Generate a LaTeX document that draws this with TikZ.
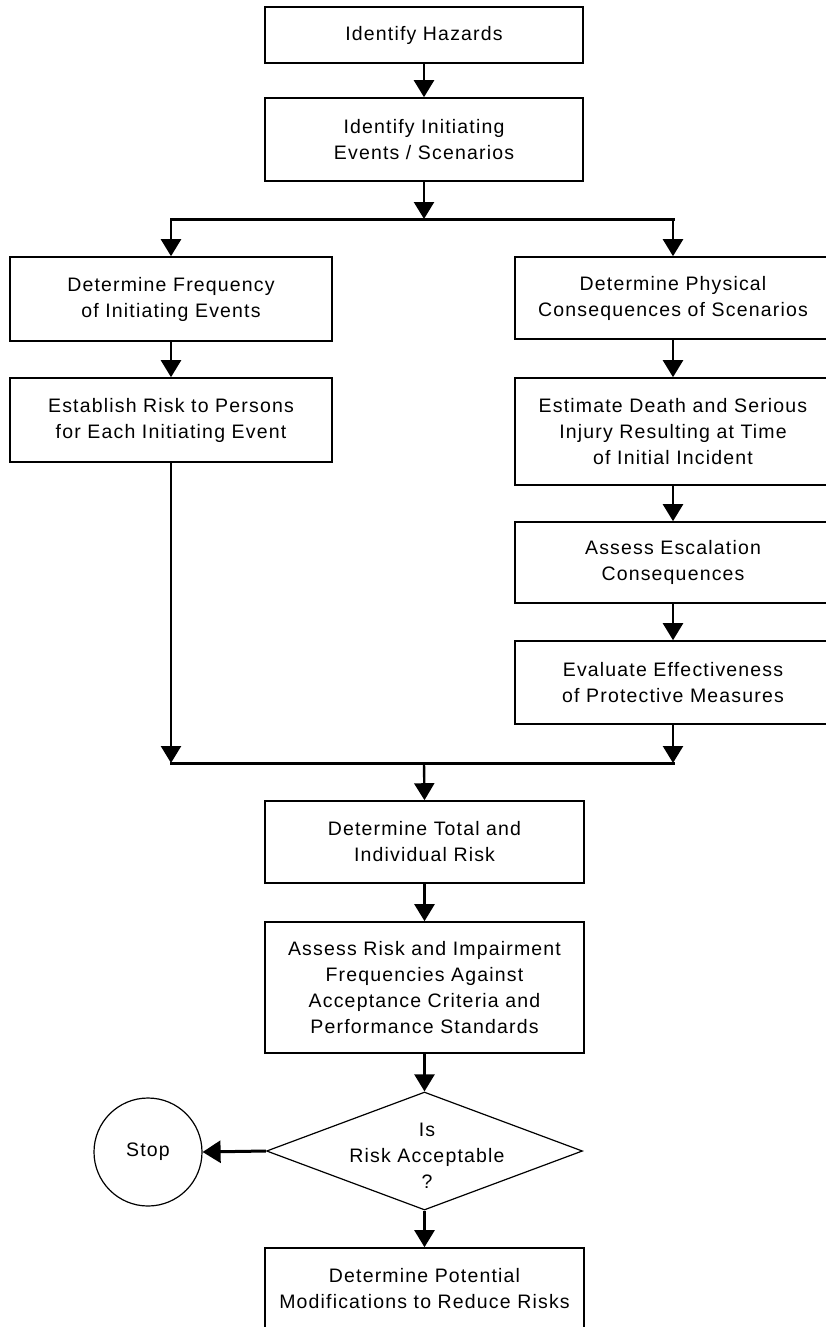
\documentclass[tikz,border=0pt]{standalone}
\usepackage{fontspec}
\setmainfont{Liberation Sans}[LetterSpace=6.0]
\usetikzlibrary{arrows.meta,shapes.geometric}
\tikzset{
  stepbox/.style={draw, line width=1.6pt, rectangle, inner sep=0pt, align=center,
    font=\fontsize{19.5}{26}\selectfont},
  flow/.style={line width=2.4pt, -{Triangle[length=17pt,width=20pt]}},
  bus/.style={line width=3pt, line cap=rect},
  thin/.style={draw, line width=1.2pt, inner sep=0pt},
  plain/.style={align=center, font=\fontsize{19.5}{26}\selectfont}
}
\begin{document}
\begin{tikzpicture}[x=1pt,y=-1pt]
\useasboundingbox (0,0) rectangle (826,1327);
\clip (0,0) rectangle (826,1327);
\fill[white] (0,0) rectangle (826,1327);
% central column
\node[stepbox, minimum width=318pt, minimum height=56pt] (haz) at (424,35) {Identify Hazards};
\node[stepbox, minimum width=318pt, minimum height=83pt] (init) at (424,139.5) {Identify Initiating\\Events / Scenarios};
% left column
\node[stepbox, minimum width=322pt, minimum height=84pt] (freq) at (171,299) {Determine Frequency\\of Initiating Events};
\node[stepbox, minimum width=322pt, minimum height=84pt] (pers) at (171,420) {Establish Risk to Persons\\for Each Initiating Event};
% right column
\node[stepbox, minimum width=316pt, minimum height=82pt] (phys) at (673,298) {Determine Physical\\Consequences of Scenarios};
\node[stepbox, minimum width=316pt, minimum height=107pt] (death) at (673,431.5) {Estimate Death and Serious\\Injury Resulting at Time\\of Initial Incident};
\node[stepbox, minimum width=316pt, minimum height=81pt] (esc) at (673,562.5) {Assess Escalation\\Consequences};
\node[stepbox, minimum width=316pt, minimum height=83pt] (prot) at (673,682.5) {Evaluate Effectiveness\\of Protective Measures};
% lower column
\node[stepbox, minimum width=319pt, minimum height=82pt] (total) at (424.5,842) {Determine Total and\\Individual Risk};
\node[stepbox, minimum width=319pt, minimum height=131pt] (assess) at (424.5,987.5) {Assess Risk and Impairment\\Frequencies Against\\Acceptance Criteria and\\Performance Standards};
\node[thin, diamond, minimum width=316pt, minimum height=118pt] (dec) at (424.5,1151) {};
\node[plain] (dectext) at (427,1156) {Is\\Risk Acceptable\\?};
\node[thin, circle, minimum size=108pt, font=\fontsize{19.5}{26}\selectfont] (stop) at (148,1152) {Stop};
\node[stepbox, minimum width=319pt, minimum height=82pt] (modif) at (424.5,1289) {Determine Potential\\Modifications to Reduce Risks};
% junctions
\coordinate (split) at (424,219);
\coordinate (splitL) at (171,219);
\coordinate (splitR) at (673,219);
\coordinate (merge) at (424,763);
\coordinate (mergeL) at (171,763);
\coordinate (mergeR) at (673,763);
% connectors
\draw[flow] (haz.south) -- (init.north);
\draw[flow] (init.south) -- (split);
\draw[bus] (splitL) -- (splitR);
\draw[flow] (splitL) -- (freq.north);
\draw[flow] (splitR) -- (phys.north);
\draw[flow] (freq.south) -- (pers.north);
\draw[flow] (pers.south) -- (mergeL);
\draw[flow] (phys.south) -- (death.north);
\draw[flow] (death.south) -- (esc.north);
\draw[flow] (esc.south) -- (prot.north);
\draw[flow] (prot.south) -- (mergeR);
\draw[bus] (mergeL) -- (mergeR);
\draw[flow] (merge) -- (total.north);
\draw[flow] (total.south) -- (assess.north);
\draw[flow] (assess.south) -- (dec.north);
\draw[line width=3pt, -{Triangle[length=18pt,width=22pt]}] (dec.west) -- (stop.east);
\draw[flow] (dec.south) -- (modif.north);
\end{tikzpicture}
\end{document}
